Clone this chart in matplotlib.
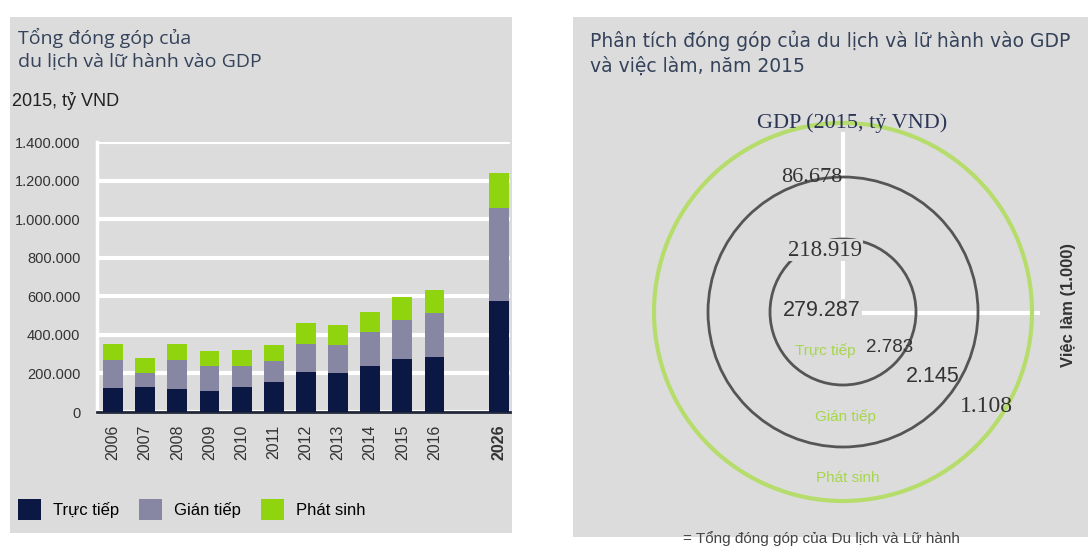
import numpy as np
import matplotlib.pyplot as plt
from matplotlib.patches import Rectangle, Circle
from matplotlib.ticker import FuncFormatter

# bar chart data (ty VND, 2015 prices)
years = ['2006', '2007', '2008', '2009', '2010', '2011', '2012', '2013',
         '2014', '2015', '2016', '2026']
slots = [0, 1, 2, 3, 4, 5, 6, 7, 8, 9, 10, 12]
direct = [125000, 128000, 120000, 111000, 130000, 155000, 205000, 202000,
          236000, 277000, 287000, 578000]
indirect = [145000, 74000, 150000, 125000, 106000, 110000, 150000, 145000,
            179000, 202000, 226000, 482000]
induced = [82000, 77000, 85000, 82000, 85000, 82000, 106000, 102000,
           103000, 119000, 119000, 181000]
series_names = ['Trực tiếp', 'Gián tiếp', 'Phát sinh']
y_ticks = [0, 200000, 400000, 600000, 800000, 1000000, 1200000, 1400000]

# circle diagram labels
gdp_values = ['279.287', '218.919', '86.678']   # direct, indirect, induced
job_values = ['2.783', '2.145', '1.108']

W, H = 1092, 547
GRAY = '#dcdcdc'
NAVY = '#0b1844'
LILAC = '#8787a3'
LIME = '#8fd40e'
TITLE = '#34425a'

fig = plt.figure(figsize=(W / 100, H / 100), dpi=100)
fig.patch.set_facecolor('white')

def fx(px):
    return px / W

def fy(py):
    return 1 - py / H

# panel backgrounds
fig.patches.append(Rectangle((fx(10), fy(533)), 502 / W, 516 / H,
                             transform=fig.transFigure, facecolor=GRAY,
                             edgecolor='none', zorder=-5))
fig.patches.append(Rectangle((fx(573), fy(537)), 515 / W, 520 / H,
                             transform=fig.transFigure, facecolor=GRAY,
                             edgecolor='none', zorder=-5))

# ---------------- left: stacked bars ----------------
fig.text(fx(18), fy(38), 'Tổng đóng góp của', fontsize=14, color=TITLE,
         va='center', family='Open Sans')
fig.text(fx(18), fy(62), 'du lịch và lữ hành vào GDP', fontsize=14,
         color=TITLE, va='center', family='Open Sans')
fig.text(fx(12), fy(101), '2015, tỷ VND', fontsize=13, color='#222222',
         va='center', family='Liberation Sans')

ax = fig.add_axes([fx(97), fy(412), 413 / W, 270 / H])
ax.set_facecolor(GRAY)
x = np.array(slots)
d = np.array(direct)
i = np.array(indirect)
s = np.array(induced)
b1 = ax.bar(x, d, width=0.62, color=NAVY, zorder=3)
b2 = ax.bar(x, i, width=0.62, bottom=d, color=LILAC, zorder=3)
b3 = ax.bar(x, s, width=0.62, bottom=d + i, color=LIME, zorder=3)

ax.set_xlim(-0.5, 12.35)
ax.set_ylim(0, 1400000)
ax.set_yticks(y_ticks)
ax.yaxis.set_major_formatter(FuncFormatter(lambda v, p: f'{int(v):,}'.replace(',', '.')))
ax.grid(axis='y', color='white', linewidth=3, zorder=1)
ax.set_axisbelow(True)
for sp in ['top', 'right']:
    ax.spines[sp].set_visible(False)
ax.spines['left'].set_color('white')
ax.spines['left'].set_linewidth(2.5)
ax.spines['bottom'].set_color('#22283a')
ax.spines['bottom'].set_linewidth(2)
ax.tick_params(axis='y', length=0, pad=12, labelsize=10.5, labelcolor='#333333')
ax.tick_params(axis='x', length=0, pad=9, labelsize=11.5, labelcolor='#333333')
for lab in ax.get_yticklabels():
    lab.set_family('Liberation Sans')
ax.set_xticks(slots)
ax.set_xticklabels(years, rotation=90, family='Liberation Sans')
ax.get_xticklabels()[-1].set_fontweight('bold')

fig.legend([b1, b2, b3], series_names, loc='upper left',
           bbox_to_anchor=(fx(3), fy(484)), ncol=3, frameon=False,
           handlelength=1.4, handleheight=1.55, handletextpad=0.7,
           columnspacing=1.2, prop={'family': 'Liberation Sans', 'size': 12})

# ---------------- right: circle diagram ----------------
fig.text(fx(590), fy(41), 'Phân tích đóng góp của du lịch và lữ hành vào GDP',
         fontsize=13.5, color=TITLE, va='center')
fig.text(fx(590), fy(66), 'và việc làm, năm 2015', fontsize=13.5,
         color=TITLE, va='center')

ax2 = fig.add_axes([fx(573), fy(537), 515 / W, 520 / H])
ax2.set_xlim(-270, 245)
ax2.set_ylim(-225, 295)
ax2.axis('off')

ax2.plot([0, 0], [0, 178], color='white', lw=3, zorder=1)
ax2.plot([0, 195], [-1, -1], color='white', lw=3, zorder=1)
ax2.add_patch(Circle((0, 0), 189, fill=False, edgecolor='#b6dc6c', lw=3, zorder=2))
ax2.add_patch(Circle((0, 0), 135, fill=False, edgecolor='#555555', lw=2, zorder=2))
ax2.add_patch(Circle((0, 0), 73, fill=False, edgecolor='#555555', lw=2, zorder=2))

serif = 'Liberation Serif'
ax2.text(9, 189, 'GDP (2015, tỷ VND)', ha='center', va='center', fontsize=16,
         family=serif, color='#2b3556', zorder=4)
ax2.text(-21, 2, gdp_values[0], ha='center', va='center', fontsize=15.5,
         family='Liberation Sans', color='#333333', zorder=4,
         bbox=dict(facecolor=GRAY, edgecolor='none', pad=0.5))
ax2.text(-18, 62, gdp_values[1], ha='center', va='center', fontsize=16.5,
         family=serif, color='#333333', zorder=4,
         bbox=dict(facecolor=GRAY, edgecolor='none', pad=0.5))
ax2.text(-31, 135, gdp_values[2], ha='center', va='center', fontsize=16,
         family=serif, color='#333333', zorder=4)
ax2.text(47, -35, job_values[0], ha='center', va='center', fontsize=13.5,
         family='Liberation Sans', color='#333333', zorder=4)
ax2.text(90, -65, job_values[1], ha='center', va='center', fontsize=15.5,
         family='Liberation Sans', color='#333333', zorder=4)
ax2.text(143, -95, job_values[2], ha='center', va='center', fontsize=17,
         family=serif, color='#333333', zorder=4)

ax2.text(-18, -39, series_names[0], ha='center', va='center', fontsize=11,
         color='#a6d64a', zorder=4, family='Liberation Sans')
ax2.text(2, -105, series_names[1], ha='center', va='center', fontsize=11,
         color='#a6d64a', zorder=4, family='Liberation Sans')
ax2.text(5, -166, series_names[2], ha='center', va='center', fontsize=11,
         color='#a6d64a', zorder=4, family='Liberation Sans')
ax2.text(225, 7, 'Việc làm (1.000)', ha='center', va='center', rotation=90,
         fontsize=12, fontweight='bold', color='#333333',
         family='Liberation Sans')

fig.text(fx(683), fy(546), '= Tổng đóng góp của Du lịch và Lữ hành',
         fontsize=11, color='#444444', va='bottom', family='Liberation Sans',
         zorder=5)

fig.savefig('out.png', dpi=100, facecolor='white')
